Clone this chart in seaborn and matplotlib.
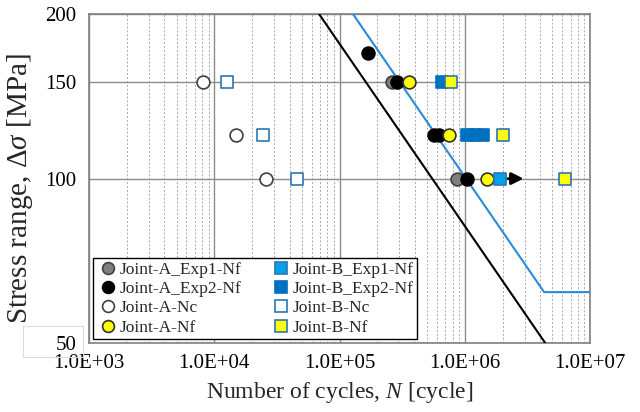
import numpy as np
import pandas as pd
import matplotlib
matplotlib.use("Agg")
import matplotlib.pyplot as plt
import seaborn as sns
from matplotlib.ticker import FixedLocator, FixedFormatter, LogLocator, NullFormatter
from matplotlib.lines import Line2D
from matplotlib.patches import Rectangle

sns.set_theme(style="white")
plt.rcParams['font.family'] = ['Liberation Serif', 'DejaVu Serif']
plt.rcParams['mathtext.fontset'] = 'custom'
plt.rcParams['mathtext.rm'] = 'Liberation Serif'
plt.rcParams['mathtext.it'] = 'Liberation Serif:italic'

# ---- data ----
a_exp1_N = [2.6e5, 8.7e5]
a_exp1_S = [150, 100]
a_exp2_N = [1.7e5, 2.85e5, 5.7e5, 6.2e5, 1.05e6]
a_exp2_S = [170, 150, 120, 120, 100]
a_nc_N = [8.1e3, 1.49e4, 2.6e4]
a_nc_S = [150, 120, 100]
a_nf_N = [3.6e5, 7.5e5, 1.5e6]
a_nf_S = [150, 120, 100]
b_exp1_N = [1.9e6]
b_exp1_S = [100]
b_exp2_N = [6.6e5, 1.05e6, 1.2e6, 1.4e6]
b_exp2_S = [150, 120, 120, 120]
b_nc_N = [1.26e4, 2.45e4, 4.6e4]
b_nc_S = [150, 120, 100]
b_nf_N = [7.8e5, 2.0e6, 6.3e6]
b_nf_S = [150, 120, 100]

# runout arrow
runout_N = [2.1e6, 3.1e6]
runout_S = 100

# design curves (JSSC): class strength at 2e6, cutoff
F_strength, F_cutoff = 65, 46
E_strength, E_cutoff = 80, 62
N_ref = 2e6
slope_m = 3

x_ticks = [1e3, 1e4, 1e5, 1e6, 1e7]
x_labels = ["1.0E+03", "1.0E+04", "1.0E+05", "1.0E+06", "1.0E+07"]
y_ticks = [50, 100, 150, 200]
y_labels = ["50", "100", "150", "200"]

fig = plt.figure(figsize=(6.4, 4.12), dpi=100)
ax = fig.add_axes([0.139, 0.167, 0.783, 0.799])
ax.set_xscale('log')
ax.set_yscale('log')
ax.set_xlim(1e3, 1e7)
ax.set_ylim(50, 200)

# grids
ax.xaxis.set_major_locator(FixedLocator(x_ticks))
ax.xaxis.set_major_formatter(FixedFormatter(x_labels))
ax.xaxis.set_minor_locator(LogLocator(base=10, subs=np.arange(2, 10)))
ax.xaxis.set_minor_formatter(NullFormatter())
ax.yaxis.set_major_locator(FixedLocator(y_ticks))
ax.yaxis.set_major_formatter(FixedFormatter(y_labels))
ax.yaxis.set_minor_locator(FixedLocator([]))
ax.grid(True, which='major', axis='x', color='#8c8c8c', lw=1.0, ls='-')
ax.grid(True, which='minor', axis='x', color='#a8a8a8', lw=0.7, ls=(0, (2, 2)))
ax.grid(True, which='major', axis='y', color='#8c8c8c', lw=1.0, ls='-')

# design lines
def curve(strength, cutoff):
    S_top = 200.0
    S_vals = [S_top, cutoff]
    N_vals = [N_ref * (strength / s) ** slope_m for s in S_vals]
    N_vals.append(1e7)
    S_vals.append(cutoff)
    return pd.DataFrame({"N": N_vals, "S": S_vals})

dF = curve(F_strength, F_cutoff)
dE = curve(E_strength, E_cutoff)
sns.lineplot(data=dF, x="N", y="S", ax=ax, color='black', lw=1.5, sort=False, zorder=3)
sns.lineplot(data=dE, x="N", y="S", ax=ax, color='#2a8ad8', lw=1.5, sort=False, zorder=3)

ms = 85
series = [
    ("Joint-A_Exp1-Nf", a_exp1_N, a_exp1_S, 'o', '#7f7f7f', '#404040'),
    ("Joint-A_Exp2-Nf", a_exp2_N, a_exp2_S, 'o', '#000000', '#000000'),
    ("Joint-A-Nc", a_nc_N, a_nc_S, 'o', '#ffffff', '#404040'),
    ("Joint-A-Nf", a_nf_N, a_nf_S, 'o', '#ffff00', '#303030'),
    ("Joint-B_Exp1-Nf", b_exp1_N, b_exp1_S, 's', '#00a2ec', '#2e75b6'),
    ("Joint-B_Exp2-Nf", b_exp2_N, b_exp2_S, 's', '#0070c0', '#0070c0'),
    ("Joint-B-Nc", b_nc_N, b_nc_S, 's', '#ffffff', '#2e75b6'),
    ("Joint-B-Nf", b_nf_N, b_nf_S, 's', '#ffff00', '#2e75b6'),
]
handles = []
for name, N, S, mk, fc, ec in series:
    df = pd.DataFrame({"N": N, "S": S})
    sns.scatterplot(data=df, x="N", y="S", ax=ax, marker=mk, s=ms, color=fc,
                    edgecolor=ec, linewidth=1.2, zorder=5, legend=False)
    handles.append(Line2D([], [], marker=mk, ls='none', markersize=8.5,
                          markerfacecolor=fc, markeredgecolor=ec,
                          markeredgewidth=1.2, label=name))

ax.annotate("", xy=(runout_N[1], runout_S), xytext=(runout_N[0], runout_S),
            arrowprops=dict(arrowstyle='-|>', color='black', lw=2.0,
                            mutation_scale=18), zorder=6)

leg = ax.legend(handles=handles, ncol=2,
                loc='lower left', bbox_to_anchor=(0.008, 0.012), frameon=True,
                fancybox=False, edgecolor='black', framealpha=1, fontsize=12.5,
                handletextpad=0.05, columnspacing=1.6, labelspacing=0.18,
                borderpad=0.2, handlelength=1.3, borderaxespad=0)
leg.get_frame().set_linewidth(1.0)
leg.set_zorder(10)

for sp in ax.spines.values():
    sp.set_color('#808080')
    sp.set_linewidth(1.2)

ax.tick_params(axis='x', which='major', direction='inout', length=8, width=1,
               color='#808080', labelsize=15, pad=4, labelcolor='black')
ax.tick_params(axis='x', which='minor', direction='in', length=4, width=0.8,
               color='#808080')
ax.tick_params(axis='y', which='major', direction='out', length=6, width=1,
               color='#808080', labelsize=15, pad=3, labelcolor='black')

# faint box around the "50" label as in the reference
fig.patches.append(Rectangle((23 / 640, 1 - 357 / 412), 60 / 640, 31 / 412,
                             transform=fig.transFigure, fill=False,
                             edgecolor='#dcdcdc', lw=0.8, zorder=0))

ax.set_xlabel("Number of cycles, $\\mathit{N}$ [cycle]", fontsize=17, labelpad=5)
ax.set_ylabel("Stress range, $\\mathit{\\Delta\\sigma}$ [MPa]", fontsize=21)
ax.yaxis.set_label_coords(-0.108, 0.47)

fig.savefig("out.png", dpi=100)
